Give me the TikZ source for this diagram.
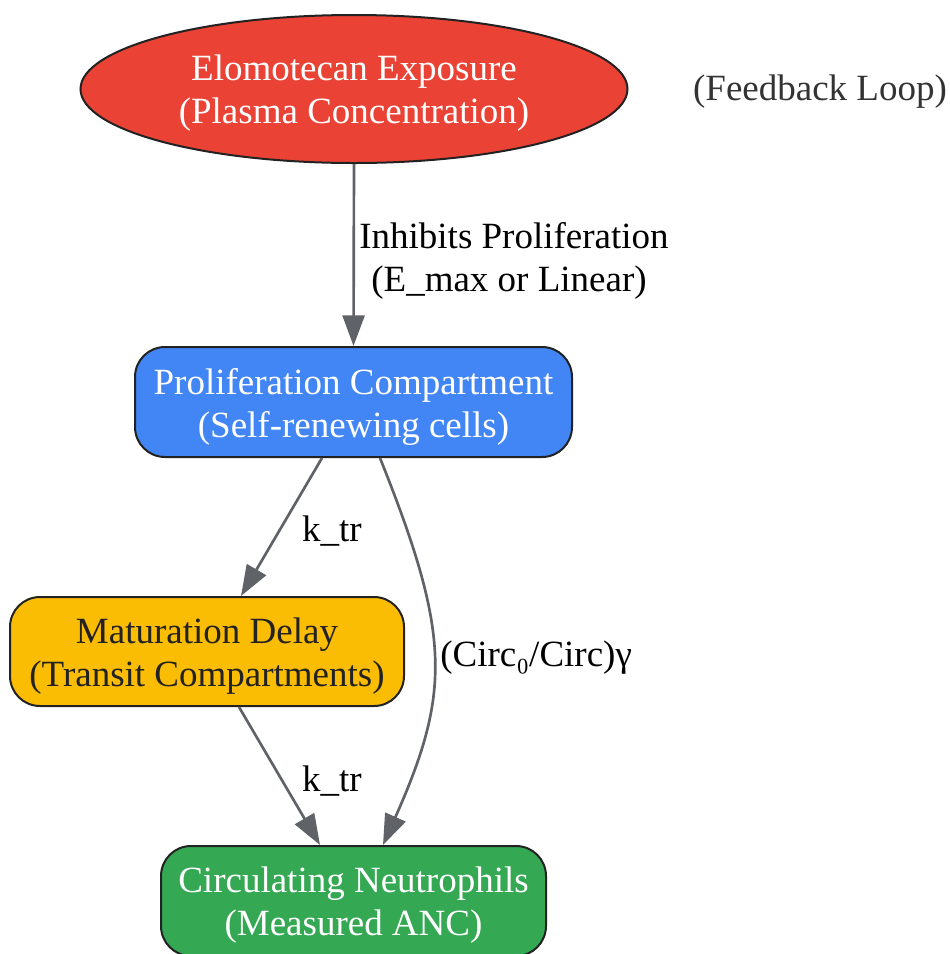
\documentclass[tikz,border=0pt]{standalone}
\usepackage{fontspec}
\setmainfont{Liberation Serif}
\usetikzlibrary{shapes.geometric,arrows.meta,calc}
\definecolor{gred}{HTML}{EA4335}
\definecolor{gblue}{HTML}{4285F4}
\definecolor{gyellow}{HTML}{FBBC04}
\definecolor{ggreen}{HTML}{34A853}
\definecolor{edgegray}{HTML}{5F6368}
\definecolor{border}{HTML}{222222}
\definecolor{darktext}{HTML}{333333}
\tikzset{
  txt/.style={font=\fontsize{27.75pt}{32.25pt}\selectfont, align=center},
  box/.style={draw=border, line width=1.5pt, rounded corners=22.5pt, inner sep=0pt},
  intext/.style={txt, inner sep=0pt, yshift=-3.4pt},
  conn/.style={draw=edgegray, line width=2pt, -{Triangle[length=23pt,width=16.5pt]}},
  elabel/.style={txt, text=black, inner sep=0pt},
}
\begin{document}
\begin{tikzpicture}[x=0.75pt,y=-0.75pt]
\useasboundingbox (0,0) rectangle (950,954);
\node[ellipse, draw=border, line width=1.5pt, fill=gred,
      minimum width=410.25pt, minimum height=111pt, inner sep=0pt,
      label={[intext, text=white]center:{Elomotecan Exposure\\(Plasma Concentration)}}]
      (exp) at (354,89) {};
\node[box, fill=gblue, minimum width=327.75pt, minimum height=82.5pt,
      label={[intext, text=white]center:{Proliferation Compartment\\(Self-renewing cells)}}]
      (pro) at (353.5,402) {};
\node[box, fill=gyellow, minimum width=295.5pt, minimum height=81.75pt,
      label={[intext, text=border]center:{Maturation Delay\\(Transit Compartments)}}]
      (mat) at (207,651.5) {};
\node[box, fill=ggreen, minimum width=288.75pt, minimum height=82.5pt,
      label={[intext, text=white]center:{Circulating Neutrophils\\(Measured ANC)}}]
      (circ) at (353.5,901) {};
\node[txt, text=darktext, inner sep=0pt] (fb) at (820,92) {(Feedback Loop)};

\draw[conn] (exp.south) -- (pro.north);
\draw[conn] ($(pro.south)+(-31.5,0)$) -- ($(mat.north)+(34,0)$);
\draw[conn] ($(mat.south)+(32,0)$) -- ($(circ.north)+(-33.5,0)$);
\draw[conn] ($(pro.south)+(26.5,0)$) .. controls (451,635) and (451,692) .. ($(circ.north)+(29.5,0)$);

\node[elabel] (l0) at (514,261) {Inhibits Proliferation\\(E\_max or Linear)\hspace*{7.5pt}};
\node[elabel] (l1) at (332,531) {k\_tr};
\node[elabel] (l2) at (332,781) {k\_tr};
\node[elabel, anchor=west] (l3) at (440,658) {(Circ₀/Circ)γ};
\end{tikzpicture}
\end{document}
